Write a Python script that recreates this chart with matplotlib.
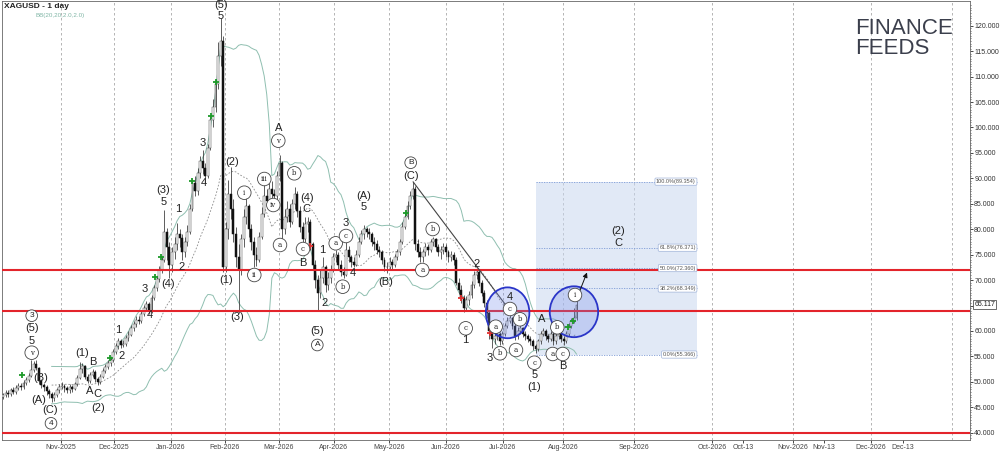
import numpy as np
import pandas as pd
import matplotlib
matplotlib.use("Agg")
import matplotlib.pyplot as plt
from matplotlib.patches import Rectangle, Ellipse

plt.rcParams['font.family'] = ['Liberation Sans', 'DejaVu Sans']

### DATA (XAGUSD daily)

first_open = 47.0
close = [
    47.4, 47.9, 47.6, 48.3, 48.0, 48.8, 49.2, 48.9, 49.8, 50.4,
    51.2, 52.3, 53.6, 52.8, 50.1, 49.3, 49.0, 48.2, 47.6, 46.8,
    47.5, 48.3, 48.9, 49.2, 48.7, 48.4, 49.0, 48.6, 49.5, 50.8,
    52.6, 53.2, 51.0, 50.2, 51.4, 52.0, 50.5, 49.9, 51.0, 52.2,
    53.0, 53.8, 54.2, 55.8, 57.0, 58.0, 57.3, 57.5, 58.6, 59.3,
    60.5, 61.4, 62.2, 62.0, 63.4, 64.5, 65.3, 64.0, 66.5, 68.4,
    70.2, 72.0, 74.0, 79.5, 76.5, 73.0, 75.5, 77.0, 79.0, 78.2,
    75.5, 77.5, 79.5, 84.0, 89.0, 87.5, 91.0, 93.5, 92.0, 90.5,
    96.0, 101.5, 104.0, 108.5, 114.0, 117.0, 72.5, 80.0, 87.0, 84.0,
    79.0, 74.5, 72.0, 78.0, 82.5, 84.5, 80.0, 77.5, 75.0, 74.0,
    78.5, 83.0, 86.5, 85.5, 88.0, 87.0, 86.5, 90.5, 93.0, 80.0,
    82.5, 84.0, 81.5, 85.0, 87.0, 83.5, 80.5, 78.0, 81.0, 81.5,
    77.0, 73.0, 70.0, 67.5, 70.5, 72.5, 69.0, 70.5, 72.0, 74.5,
    75.0, 73.0, 71.5, 71.0, 76.0, 74.5, 73.5, 73.0, 75.0, 77.5,
    79.0, 80.0, 79.5, 79.0, 77.5, 77.0, 76.0, 75.5, 74.0, 72.5,
    72.5, 73.5, 73.0, 74.5, 75.5, 77.5, 80.5, 82.5, 84.5, 86.5,
    88.0, 77.0, 75.5, 74.5, 75.5, 76.5, 76.0, 77.5, 78.0, 76.5,
    75.5, 76.0, 76.5, 75.5, 74.5, 75.0, 74.0, 69.5, 68.0, 66.5,
    64.5, 66.0, 67.0, 69.0, 71.0, 71.5, 69.5, 67.5, 65.5, 63.5,
    60.0, 58.5, 59.0, 59.5, 58.0, 59.5, 61.0, 62.0, 62.5, 61.0,
    59.0, 60.0, 60.5, 59.5, 59.0, 58.5, 58.0, 57.0, 56.5, 58.0,
    59.5, 60.0, 59.0, 58.5, 59.5, 58.0, 59.0, 59.5, 58.5, 58.0,
    59.5, 61.0, 62.0, 62.5, 65.117,
]
high = [
    47.9, 48.3, 48.4, 48.8, 48.9, 49.3, 49.8, 49.7, 50.3, 51.0,
    51.8, 54.3, 54.0, 54.2, 53.0, 50.6, 49.8, 49.4, 48.6, 48.0,
    48.0, 48.7, 49.6, 49.9, 49.6, 49.1, 49.5, 49.4, 50.0, 51.3,
    53.9, 53.8, 53.4, 51.6, 51.9, 52.5, 52.3, 51.0, 51.5, 52.8,
    53.6, 54.3, 54.9, 56.4, 57.6, 58.7, 58.5, 58.2, 59.2, 60.0,
    61.2, 62.0, 62.9, 63.0, 64.0, 65.2, 65.9, 65.7, 67.0, 69.0,
    70.8, 72.8, 74.8, 83.7, 80.2, 77.5, 76.5, 78.5, 81.2, 80.0,
    79.0, 78.5, 80.8, 85.0, 89.8, 90.5, 92.0, 94.3, 95.5, 93.0,
    96.8, 102.4, 105.5, 109.5, 116.8, 121.5, 118.0, 81.5, 89.6, 92.2,
    86.0, 80.5, 77.0, 79.0, 84.0, 86.3, 85.0, 81.0, 78.5, 76.5,
    79.5, 84.4, 89.0, 88.0, 89.0, 89.5, 88.0, 91.5, 94.5, 93.5,
    84.0, 85.5, 85.0, 86.0, 88.3, 87.5, 84.5, 81.5, 82.5, 82.5,
    82.0, 77.5, 74.0, 71.0, 72.0, 74.5, 73.0, 71.5, 73.0, 75.3,
    75.9, 75.5, 74.0, 72.5, 77.5, 76.8, 75.0, 74.5, 76.0, 78.5,
    79.8, 80.8, 80.5, 80.3, 79.5, 78.5, 77.8, 76.8, 76.0, 74.5,
    73.5, 74.5, 74.2, 75.2, 76.2, 78.0, 81.5, 83.5, 85.5, 87.5,
    89.3, 88.5, 78.0, 76.5, 76.2, 77.2, 77.0, 78.0, 78.4, 78.2,
    77.0, 76.8, 77.2, 77.0, 76.0, 75.8, 75.5, 74.5, 70.5, 69.0,
    67.0, 66.8, 67.8, 69.8, 71.8, 72.4, 72.0, 70.0, 68.0, 66.0,
    64.0, 60.5, 59.8, 60.2, 59.8, 60.0, 61.6, 62.8, 63.5, 62.8,
    61.3, 60.7, 61.2, 60.8, 60.0, 59.5, 59.0, 58.4, 57.5, 58.5,
    60.0, 60.6, 60.3, 59.5, 60.0, 59.8, 59.6, 60.0, 59.8, 59.0,
    60.0, 61.5, 62.6, 64.5, 66.0,
]
low = [
    46.6, 47.0, 47.1, 47.3, 47.6, 47.7, 48.4, 48.3, 48.6, 49.4,
    50.0, 51.0, 52.0, 52.3, 49.6, 48.8, 48.2, 47.4, 46.8, 46.0,
    46.3, 47.1, 47.9, 48.5, 48.1, 47.8, 47.9, 48.0, 48.3, 49.1,
    50.5, 51.8, 50.6, 49.7, 49.8, 51.0, 50.0, 49.4, 49.6, 50.7,
    51.8, 52.6, 53.2, 53.9, 55.4, 56.5, 56.6, 56.8, 57.1, 58.0,
    59.0, 60.0, 60.8, 61.3, 61.6, 63.0, 63.9, 63.3, 63.6, 66.0,
    67.9, 69.6, 71.4, 73.5, 74.0, 70.5, 71.5, 74.2, 76.0, 76.5,
    74.0, 74.6, 76.8, 79.0, 83.5, 86.5, 86.8, 90.0, 90.8, 89.0,
    90.0, 95.5, 100.0, 103.0, 107.5, 112.0, 71.5, 71.5, 78.0, 82.0,
    77.5, 72.5, 63.5, 71.0, 76.5, 81.0, 78.5, 76.0, 72.6, 72.8,
    73.5, 78.0, 82.5, 84.5, 85.0, 86.0, 85.7, 86.0, 89.5, 77.8,
    79.0, 81.5, 80.5, 81.0, 84.0, 82.5, 79.5, 76.5, 77.5, 79.5,
    76.0, 72.0, 68.5, 64.0, 66.5, 69.5, 67.6, 68.0, 69.5, 71.5,
    73.5, 72.0, 70.8, 70.4, 70.8, 73.5, 72.6, 72.5, 72.7, 74.5,
    77.0, 78.0, 78.5, 78.0, 76.8, 76.0, 75.2, 74.5, 73.2, 71.8,
    71.4, 72.0, 72.0, 72.5, 74.0, 75.0, 77.0, 80.0, 82.0, 84.0,
    86.0, 76.0, 74.5, 73.5, 73.5, 74.8, 75.0, 75.5, 76.8, 75.8,
    74.8, 74.2, 75.2, 74.5, 73.5, 73.8, 73.0, 69.0, 67.2, 65.5,
    63.7, 63.9, 65.2, 66.5, 68.5, 70.2, 68.8, 66.8, 64.8, 62.5,
    58.5, 56.6, 57.5, 58.2, 57.2, 57.5, 59.0, 60.5, 61.5, 60.3,
    58.2, 58.5, 59.4, 58.8, 58.2, 57.8, 57.2, 56.3, 55.6, 56.0,
    57.5, 59.0, 58.3, 57.8, 58.0, 57.2, 57.5, 58.5, 57.8, 57.2,
    57.6, 59.0, 60.5, 61.5, 62.2,
]
last_price = 65.117

# signal markers (bar index, price)
buy_x = [7.3, 41.8, 59.4, 61.7, 73.7, 81.1, 83.0, 157.3, 220.6, 222.7]
buy_y = [51.3, 54.7, 70.6, 74.5, 89.5, 102.3, 108.9, 83.2, 60.8, 62.0]
sell_x = [119.9, 178.8, 190.2]
sell_y = [76.7, 66.5, 59.6]

# support / resistance lines
red_levels = [71.9, 63.86, 40.0]

# fibonacci retracement
fib_pct = ["0.0", "38.2", "50.0", "61.8", "100.0"]
fib_price = [55.366, 68.349, 72.360, 76.371, 89.354]

# x axis (bar index of each date label)
date_labels = ["Nov-2025", "Dec-2025", "Jan-2026", "Feb-2026", "Mar-2026", "Apr-2026",
               "May-2026", "Jun-2026", "Jul-2026", "Aug-2026", "Sep-2026", "Oct-2026",
               "Oct-13", "Nov-2026", "Nov-13", "Dec-2026", "Dec-13"]
date_pos = [22.7, 43.4, 65.6, 86.7, 107.8, 129.1, 150.8, 172.9, 195.2, 218.8,
            246.3, 277.0, 289.0, 308.4, 320.7, 339.0, 351.4]
grid_pos = [22.7, 43.4, 65.6, 86.7, 107.8, 129.1, 150.8, 172.9, 195.2, 218.8,
            246.3, 277.0, 308.4, 339.0, 370.7]

# elliott wave labels: text, x px, y px, style
wave_labels = [
    ("3", 31.7, 315.7, 'n'), ("(5)", 31.7, 328.3, 'w'), ("5", 31.7, 341, 'w'),
    ("v", 31.7, 352.7, 'c'), ("(B)", 41, 378.3, 'w'), ("(A)", 38.3, 400, 'w'),
    ("(C)", 50, 410, 'w'), ("4", 51, 423.3, 'n'), ("(1)", 81.7, 353.3, 'w'),
    ("B", 92.7, 361.7, 'w'), ("A", 89.3, 390.7, 'w'), ("C", 97.3, 394.3, 'w'),
    ("(2)", 97.7, 407.7, 'w'), ("1", 118.3, 330, 'w'), ("2", 121.7, 355.7, 'w'),
    ("3", 144.3, 289.3, 'w'), ("4", 150, 315, 'w'), ("(3)", 163.3, 190, 'w'),
    ("5", 163.3, 202.3, 'w'), ("(4)", 168.3, 284, 'w'), ("1", 178.3, 209.3, 'w'),
    ("2", 181.7, 266.7, 'w'), ("3", 202.3, 143.3, 'w'), ("4", 204.3, 183.3, 'w'),
    ("(5)", 220.7, 5.5, 'w'), ("5", 220.7, 16, 'w'), ("(2)", 231.7, 162.3, 'w'),
    ("(1)", 226, 280, 'w'), ("(3)", 236.7, 316.7, 'w'), ("i", 244.3, 192.7, 'c'),
    ("ii", 254.3, 275, 'c'), ("iii", 264.3, 179, 'c'), ("iv", 273.3, 205, 'c'),
    ("A", 278.3, 127.7, 'w'), ("v", 278.3, 140.7, 'c'), ("a", 280, 245, 'c'),
    ("b", 294.3, 173.3, 'c'), ("(4)", 306.7, 198, 'w'), ("C", 306.7, 209, 'w'),
    ("c", 303, 249, 'c'), ("B", 303, 263, 'w'), ("1", 322.3, 250, 'w'),
    ("2", 325, 302.7, 'w'), ("(5)", 317.3, 331, 'w'), ("A", 317.3, 345, 'n'),
    ("a", 335.7, 243.3, 'c'), ("b", 342.7, 286.7, 'c'), ("3", 346, 223.3, 'w'),
    ("c", 346, 236, 'c'), ("4", 352.7, 273.3, 'w'), ("(A)", 364, 196, 'w'),
    ("5", 364, 206.7, 'w'), ("(B)", 385.7, 282.3, 'w'), ("B", 410.7, 162.7, 'n'),
    ("(C)", 410.7, 175.7, 'w'), ("a", 422.3, 270, 'c'), ("b", 432.7, 229, 'c'),
    ("c", 465.7, 328.3, 'c'), ("1", 465.7, 340, 'w'), ("2", 476.7, 264.3, 'w'),
    ("3", 490, 358.3, 'w'), ("a", 495.7, 326.7, 'c'), ("b", 500, 353.3, 'c'),
    ("4", 510, 296.7, 'w'), ("c", 510, 309, 'c'), ("b", 520, 319.3, 'c'),
    ("a", 516, 350, 'c'), ("c", 534.3, 362.7, 'c'), ("5", 534.3, 375, 'w'),
    ("(1)", 534.3, 386.7, 'w'), ("A", 541.7, 319.3, 'w'), ("b", 557.3, 327.3, 'c'),
    ("a", 552.7, 354, 'c'), ("c", 562.7, 354, 'c'), ("B", 562.7, 366, 'w'),
    ("i", 575, 295, 'c'), ("(2)", 618.3, 230.7, 'w'), ("C", 618.3, 242.7, 'w'),
]

### FIGURE

H = 451
fig = plt.figure(figsize=(10, 4.51), dpi=100)
ax = fig.add_axes([0.002, 11 / H, 0.968, 439 / H])

n = len(close)
x = np.arange(n)
opens = np.array([first_open] + close[:-1])
closes = np.array(close)

# bollinger bands 20, 2
s = pd.Series(close)
mid = s.rolling(20).mean()
sd = s.rolling(20).std(ddof=0)
ax.plot(x, mid + 2 * sd, color='#8fbfb0', lw=0.7, zorder=2)
ax.plot(x, mid - 2 * sd, color='#8fbfb0', lw=0.7, zorder=2)
ax.plot(x, mid, color='#8a8a8a', lw=0.6, ls=(0, (2, 2)), zorder=2)

# fib box
ax.add_patch(Rectangle((208.2, fib_price[0]), 62.9, fib_price[-1] - fib_price[0],
                       facecolor='#c9d7f0', alpha=0.55, edgecolor='none', zorder=1))
for pct, p in zip(fib_pct, fib_price):
    ax.plot([208.2, 271.1], [p, p], color='#7d9bd6', lw=0.6, ls=(0, (1.5, 1.5)), zorder=1.5)
    ax.text(270.6, p, f"{pct}%({p:.3f})", fontsize=4, color='#555555', ha='right', va='center',
            bbox=dict(boxstyle='round,pad=0.2', fc='white', ec='#9fb3d9', lw=0.5), zorder=6)

# month grid
for g in grid_pos:
    ax.axvline(g, color='#a8a8a8', lw=0.6, ls=(0, (3, 3)), zorder=0)

# red levels
for lvl in red_levels:
    ax.axhline(lvl, color='#e3242b', lw=1.5, zorder=4)

# candles
up = closes >= opens
ax.vlines(x, low, high, color='#333333', lw=0.55, zorder=3)
body_bottom = np.minimum(opens, closes)
body_h = np.maximum(np.abs(closes - opens), 0.15)
ax.bar(x[up], body_h[up], bottom=body_bottom[up], width=0.75, color='white',
       edgecolor='#444444', lw=0.35, zorder=3.5)
ax.bar(x[~up], body_h[~up], bottom=body_bottom[~up], width=0.75, color='#111111',
       edgecolor='#111111', lw=0.35, zorder=3.5)

# signal markers
ax.plot(buy_x, buy_y, '+', color='#1e9a2a', ms=4.5, mew=1.3, zorder=5)
ax.plot(sell_x, sell_y, '+', color='#e03030', ms=4.5, mew=1.3, zorder=5)

# trend line and projection arrow
ax.plot([160.2, 198.0], [89.3, 64.0], color='#444444', lw=0.8, zorder=4)
ax.annotate('', xy=(228.5, 72.0), xytext=(224.9, 67.4),
            arrowprops=dict(arrowstyle='-|>', color='#111111', lw=0.7, mutation_scale=7), zorder=6)

# blue circles
for cx, cy, w in [(197.1, 63.57, 17.0), (223.0, 63.78, 18.9)]:
    ax.add_patch(Ellipse((cx, cy), w, 10.0, facecolor='#6f86ea', alpha=0.28, edgecolor='none', zorder=4.5))
    ax.add_patch(Ellipse((cx, cy), w, 10.0, facecolor='none', edgecolor='#2a35c8', lw=1.3, zorder=4.6))

# wave labels
for t, px_, py_, kind in wave_labels:
    if kind == 'w':
        ax.annotate(t, xy=(px_, H - py_), xycoords='figure pixels', ha='center', va='center',
                    fontsize=8, color='#222222', zorder=7)
    elif kind == 'c':
        ax.annotate(t, xy=(px_, H - py_), xycoords='figure pixels', ha='center', va='center',
                    fontsize=5, color='#222222', family='DejaVu Serif', zorder=7,
                    bbox=dict(boxstyle='circle,pad=0.4', fc='white', ec='#444444', lw=0.6))
    else:
        ax.annotate(t, xy=(px_, H - py_), xycoords='figure pixels', ha='center', va='center',
                    fontsize=6, color='#222222', zorder=7,
                    bbox=dict(boxstyle='circle,pad=0.28', fc='white', ec='#444444', lw=0.6))

# axes
ax.set_xlim(-0.4, 377.7)
ax.set_ylim(38.57, 124.86)
ax.yaxis.tick_right()
yt = np.arange(40, 121, 5)
ax.set_yticks(yt)
ax.set_yticklabels([f"{v:.3f}" for v in yt])
ax.set_yticks(np.arange(39, 124.5, 0.5), minor=True)
ax.tick_params(axis='y', which='major', labelsize=5, labelcolor='#333333', length=2, pad=1, width=0.5)
ax.tick_params(axis='y', which='minor', length=1, width=0.4)
ax.set_xticks(date_pos)
ax.set_xticklabels(date_labels)
ax.tick_params(axis='x', labelsize=5, labelcolor='#444444', length=2, pad=1, width=0.5)
for sp in ax.spines.values():
    sp.set_color('#666666')
    sp.set_linewidth(0.6)

ax.annotate(f"{last_price:.3f}", xy=(1.0, last_price), xycoords=('axes fraction', 'data'),
            xytext=(3, 0), textcoords='offset points', fontsize=5, va='center', color='#222222',
            bbox=dict(boxstyle='square,pad=0.15', fc='white', ec='#333333', lw=0.5), annotation_clip=False)

# title and indicator name
fig.text(4 / 1000, 1 - 7 / H, "XAGUSD - 1 day", fontsize=6, weight='bold', va='center', color='#222222')
fig.text(36 / 1000, 1 - 15 / H, "BB(20,20,2.0,2.0)", fontsize=4.5, va='center', color='#7fb5a5')

# logo
fig.text(855 / 1000, 1 - 29 / H, "FINANCE", fontsize=16, va='center', ha='left', color='#3b3f4c')
fig.text(855 / 1000, 1 - 49 / H, "FEEDS", fontsize=16, va='center', ha='left', color='#3b3f4c')

fig.savefig("out.png", dpi=100)
